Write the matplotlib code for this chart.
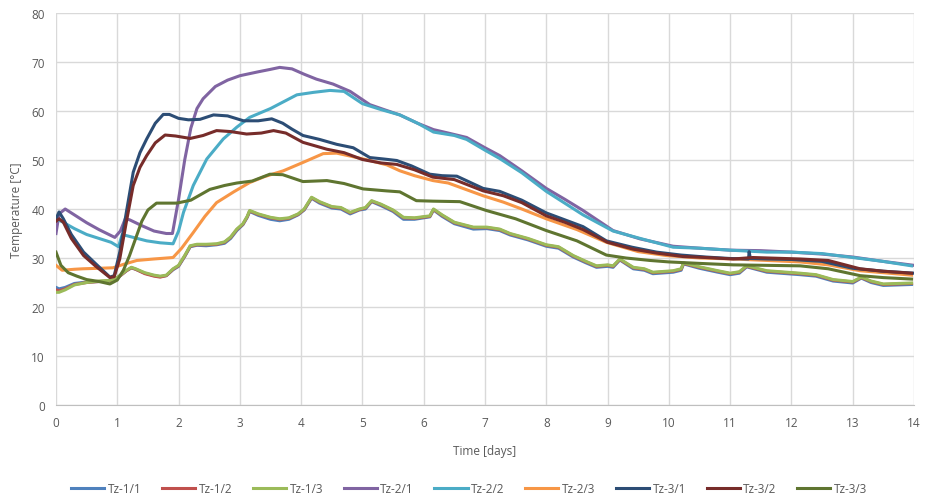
import matplotlib
matplotlib.use("Agg")
import matplotlib.pyplot as plt

# ---------------- data ----------------
labels = ["Tz-1/1", "Tz-1/2", "Tz-1/3", "Tz-2/1", "Tz-2/2", "Tz-2/3", "Tz-3/1", "Tz-3/2", "Tz-3/3"]
colors = ["#4F81BD", "#C0504D", "#9BBB59", "#8064A2", "#4BACC6", "#F79646", "#2C4D75", "#772C2A", "#5F7530"]

t_1 = [0, 0.05, 0.15, 0.3, 0.5, 0.7, 0.85, 0.95, 1.05, 1.15, 1.23, 1.3, 1.45, 1.6, 1.7, 1.8, 1.91, 2.0, 2.1,
       2.19, 2.3, 2.45, 2.62, 2.75, 2.85, 2.95, 3.05, 3.12, 3.16, 3.3, 3.5, 3.65, 3.8, 3.95, 4.05, 4.17, 4.3,
       4.5, 4.65, 4.8, 4.95, 5.05, 5.15, 5.3, 5.5, 5.67, 5.85, 6.1, 6.16, 6.3, 6.5, 6.81, 7.03, 7.24, 7.41,
       7.7, 8.0, 8.2, 8.44, 8.65, 8.82, 9.0, 9.09, 9.2, 9.42, 9.6, 9.74, 10.07, 10.2, 10.24, 10.5, 10.8, 11.0,
       11.15, 11.27, 11.6, 12.14, 12.4, 12.68, 13.0, 13.14, 13.3, 13.5, 13.96]
T_11 = [24, 23.7, 24, 24.8, 25.1, 25.2, 25.3, 25.5, 26.4, 27.4, 28.0, 27.7, 26.9, 26.4, 26.2, 26.4, 27.6, 28.3, 30.3,
        32.3, 32.6, 32.5, 32.7, 33.0, 34.0, 35.6, 36.8, 38.3, 39.5, 38.7, 37.9, 37.6, 37.9, 38.8, 39.8, 42.2, 41.2,
        40.2, 40.0, 39.0, 39.8, 40.0, 41.5, 40.7, 39.5, 37.9, 37.9, 38.4, 39.8, 38.5, 37.0, 35.9, 36.0, 35.6, 34.7,
        33.7, 32.4, 32.0, 30.2, 29.0, 28.1, 28.3, 28.1, 29.6, 27.8, 27.5, 26.8, 27.1, 27.5, 28.8, 27.9, 27.1, 26.6,
        26.9, 28.2, 27.1, 26.6, 26.3, 25.3, 24.9, 25.9, 25.0, 24.4, 24.6]
T_12 = [23.5, 23.3, 23.7, 24.6, 25.0, 25.2, 25.3, 25.5, 26.4, 27.4, 28.0, 27.7, 26.8, 26.3, 26.1, 26.4, 27.7, 28.4, 30.4,
        32.4, 32.7, 32.7, 32.8, 33.2, 34.2, 35.8, 36.9, 38.4, 39.6, 38.9, 38.2, 37.9, 38.1, 38.9, 39.9, 42.3, 41.4,
        40.4, 40.2, 39.2, 39.9, 40.2, 41.6, 40.9, 39.7, 38.2, 38.1, 38.5, 39.9, 38.7, 37.2, 36.2, 36.2, 35.8, 34.9,
        33.9, 32.6, 32.2, 30.4, 29.2, 28.3, 28.5, 28.3, 29.7, 28.0, 27.7, 27.0, 27.3, 27.7, 28.9, 28.1, 27.3, 26.8,
        27.1, 28.3, 27.3, 26.8, 26.5, 25.5, 25.1, 26.0, 25.2, 24.6, 24.8]
T_13 = [23, 23, 23.5, 24.5, 25, 25.3, 25.4, 25.6, 26.5, 27.5, 28.1, 27.8, 27, 26.5, 26.3, 26.5, 27.8, 28.5, 30.5,
        32.5, 32.8, 32.8, 32.9, 33.3, 34.3, 35.9, 37, 38.5, 39.7, 39, 38.3, 38, 38.2, 39, 40, 42.4, 41.5,
        40.5, 40.3, 39.3, 40, 40.3, 41.7, 41, 39.8, 38.3, 38.2, 38.6, 40, 38.8, 37.3, 36.3, 36.3, 35.9, 35,
        34, 32.7, 32.3, 30.5, 29.3, 28.4, 28.6, 28.4, 29.8, 28.1, 27.8, 27.1, 27.4, 27.8, 29, 28.2, 27.4, 26.9,
        27.2, 28.4, 27.4, 26.9, 26.6, 25.6, 25.2, 26.1, 25.3, 24.7, 24.9]

t_21 = [0, 0.05, 0.15, 0.3, 0.5, 0.7, 0.96, 1.05, 1.13, 1.2, 1.4, 1.6, 1.8, 1.9, 2.0, 2.1, 2.2, 2.3, 2.4, 2.6,
        2.8, 3.0, 3.3, 3.5, 3.65, 3.85, 4.05, 4.25, 4.52, 4.8, 5.12, 5.35, 5.61, 5.9, 6.16, 6.4, 6.7, 7.0,
        7.24, 7.6, 8.0, 8.3, 8.6, 9.09, 9.53, 10.07, 10.5, 11.0, 11.5, 12.0, 12.5, 13.0, 13.5, 14.0]
T_21 = [35, 39, 40, 38.8, 37.2, 35.8, 34.2, 35.5, 38, 37.8, 36.6, 35.5, 35, 35, 42, 50, 56.5, 60.5, 62.5, 65,
        66.3, 67.2, 68, 68.5, 68.9, 68.6, 67.5, 66.5, 65.5, 64, 61.3, 60.3, 59.2, 57.5, 56.2, 55.5, 54.6, 52.5,
        50.9, 47.8, 44.2, 42, 39.7, 35.6, 33.9, 32.4, 32, 31.6, 31.5, 31.2, 30.8, 30.2, 29.3, 28.5]

t_22 = [0, 0.1, 0.3, 0.5, 0.7, 0.9, 1.02, 1.08, 1.2, 1.48, 1.7, 1.91, 2.0, 2.08, 2.24, 2.46, 2.73, 2.95, 3.16,
        3.5, 3.93, 4.2, 4.47, 4.7, 5.0, 5.3, 5.61, 5.9, 6.16, 6.5, 6.7, 7.0, 7.24, 7.6, 8.0, 8.3, 8.6, 9.09,
        9.53, 10.07, 10.5, 11.0, 11.6, 12.0, 12.5, 13.0, 13.5, 13.96]
T_22 = [38, 37.4, 36, 34.8, 34, 33.2, 32.3, 34.8, 34.4, 33.5, 33.1, 32.9, 35.5, 39.3, 44.8, 50.2, 54.3, 56.7, 58.7,
        60.5, 63.3, 63.8, 64.2, 64, 61.5, 60.3, 59.2, 57.5, 55.7, 55, 54.2, 52, 50.3, 47.4, 43.6, 41.2, 38.8, 35.5,
        34.0, 32.2, 32, 31.6, 31.2, 31.2, 30.9, 30.1, 29.3, 28.4]

t_23 = [0, 0.1, 0.3, 0.44, 0.7, 0.93, 1.1, 1.32, 1.6, 1.91, 2.05, 2.24, 2.43, 2.62, 2.9, 3.16, 3.4, 3.71, 4.03,
        4.36, 4.58, 4.8, 5.12, 5.4, 5.61, 5.85, 6.15, 6.4, 6.97, 7.3, 7.6, 8.0, 8.5, 8.98, 9.5, 9.96, 10.5,
        11.05, 11.6, 12.14, 12.6, 13.12, 13.5, 13.96]
T_23 = [28.5, 27.5, 27.7, 27.8, 27.9, 28, 28.7, 29.5, 29.8, 30.1, 32, 35.2, 38.5, 41.3, 43.5, 45.4, 46.6, 47.8, 49.5,
        51.3, 51.4, 50.8, 49.9, 49, 47.8, 46.8, 45.8, 45.3, 42.7, 41.4, 40, 38, 35.8, 33.2, 31.3, 30.5, 30,
        29.8, 29.5, 29.2, 28.6, 27.4, 27, 26.5]

t_31 = [0, 0.05, 0.12, 0.25, 0.45, 0.65, 0.88, 0.95, 1.04, 1.15, 1.26, 1.37, 1.48, 1.62, 1.75, 1.85, 2.0, 2.16,
        2.35, 2.57, 2.8, 3.06, 3.3, 3.52, 3.7, 3.85, 4.03, 4.3, 4.58, 4.85, 5.12, 5.35, 5.56, 5.8, 6.1, 6.3, 6.54,
        6.97, 7.24, 7.6, 8.0, 8.3, 8.6, 8.98, 9.4, 9.8, 10.2, 10.6, 11.0, 11.3, 11.31, 11.33, 11.6, 12.0, 12.5,
        13.0, 13.5, 14.0]
T_31 = [38, 39.4, 38, 34.8, 31.2, 28.8, 26.1, 26.4, 31.2, 39.5, 47.5, 51.5, 54.3, 57.5, 59.3, 59.3, 58.5, 58.2,
        58.3, 59.2, 59, 58, 58, 58.4, 57.5, 56.3, 55, 54.2, 53.2, 52.5, 50.5, 50.2, 49.9, 48.8, 47.1, 46.8, 46.7,
        44.2, 43.6, 41.8, 39.2, 37.8, 36.4, 33.5, 32.2, 31.2, 30.6, 30.2, 29.9, 29.8, 31.3, 29.9, 29.8, 29.7, 29.3,
        27.9, 27.3, 26.9]

t_32 = [0, 0.05, 0.12, 0.25, 0.45, 0.65, 0.88, 0.95, 1.04, 1.15, 1.26, 1.37, 1.48, 1.62, 1.78, 1.95, 2.19, 2.4,
        2.62, 2.85, 3.11, 3.35, 3.55, 3.75, 4.03, 4.42, 4.7, 5.0, 5.3, 5.56, 5.85, 6.15, 6.5, 6.97, 7.3, 7.6,
        8.0, 8.3, 8.6, 9.0, 9.42, 9.8, 10.23, 10.6, 11.05, 11.37, 12.14, 12.6, 13.12, 13.5, 13.96]
T_32 = [37.5, 38, 37.3, 34, 30.5, 28.3, 26, 26.2, 29.8, 37.5, 44.8, 48.5, 50.9, 53.5, 55.1, 54.9, 54.4, 55,
        56, 55.8, 55.3, 55.5, 56, 55.5, 53.6, 52.2, 51.5, 50.1, 49.4, 49.1, 48, 46.5, 46, 43.7, 42.7, 41.3,
        38.6, 37.3, 35.8, 33.2, 31.8, 31, 30.3, 30.1, 29.8, 30.1, 29.8, 29.5, 27.8, 27.3, 26.9]

t_33 = [0, 0.08, 0.2, 0.34, 0.5, 0.7, 0.88, 1.0, 1.1, 1.2, 1.3, 1.4, 1.5, 1.64, 1.97, 2.2, 2.51, 2.75, 2.95,
        3.2, 3.49, 3.7, 4.03, 4.42, 4.7, 5.01, 5.39, 5.61, 5.88, 6.15, 6.59, 7.02, 7.5, 8.0, 8.5, 8.98, 9.3,
        9.69, 10.0, 10.5, 11.05, 11.6, 12.14, 12.6, 13.12, 13.5, 13.96]
T_33 = [31.2, 28.5, 27, 26.3, 25.6, 25.2, 24.7, 25.5, 27.5, 30.5, 34, 37.5, 39.8, 41.2, 41.2, 41.8, 44, 44.8, 45.3,
        45.7, 47.1, 47, 45.6, 45.8, 45.2, 44.1, 43.7, 43.5, 41.7, 41.6, 41.5, 39.7, 38, 35.6, 33.5, 30.6, 30,
        29.5, 29.2, 28.9, 28.6, 28.5, 28.4, 27.8, 26.4, 26.0, 25.7]

series_t = [t_1, t_1, t_1, t_21, t_22, t_23, t_31, t_32, t_33]
series_T = [T_11, T_12, T_13, T_21, T_22, T_23, T_31, T_32, T_33]

x_ticks = list(range(0, 15))
y_ticks = list(range(0, 81, 10))

# ---------------- plot ----------------
plt.rcParams['font.family'] = ['Open Sans', 'DejaVu Sans']
fig = plt.figure(figsize=(9.27, 5.02), dpi=100)
ax = fig.add_axes([56 / 927, 1 - 406 / 502, (914 - 56) / 927, (406 - 14) / 502])

for t, T, c, lab in zip(series_t, series_T, colors, labels):
    ax.plot(t, T, color=c, lw=2.2, label=lab, solid_joinstyle='round')

ax.set_xlim(0, 14)
ax.set_ylim(0, 80)
ax.set_xticks(x_ticks)
ax.set_yticks(y_ticks)
ax.grid(True, color='#D9D9D9', lw=1.0)
ax.set_axisbelow(True)
for s in ['top', 'right', 'left']:
    ax.spines[s].set_visible(False)
ax.spines['bottom'].set_color('#BFBFBF')
ax.tick_params(length=0, labelsize=8.5, colors='#595959', pad=8)

ax.set_xlabel('Time [days]', fontsize=8.5, color='#595959', labelpad=11)
ax.set_ylabel('Temperature [°C]', fontsize=8.5, color='#595959', labelpad=6)

leg = fig.legend(loc='center', bbox_to_anchor=(469 / 927, 12 / 502), ncol=9, frameon=False,
                 fontsize=8.5, handlelength=2.8, columnspacing=1.75, handletextpad=0.3)
for txt in leg.get_texts():
    txt.set_color('#595959')

fig.savefig('out.png', dpi=100)
